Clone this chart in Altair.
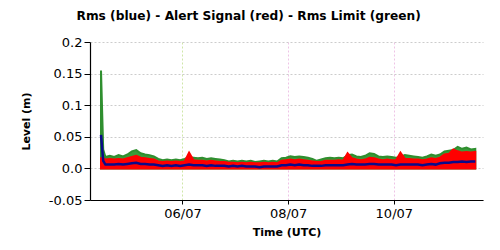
import altair as alt
import pandas as pd

# first two samples are hourly (start-up spike), then 2-hourly samples (UTC)
spike_times = ["2021-07-04T11:00:00Z", "2021-07-04T12:00:00Z"]
regular_start = "2021-07-04 13:00"
rms_limit = [0.155, 0.030, 0.018, 0.020, 0.018, 0.021, 0.019, 0.022, 0.027, 0.029,
             0.024, 0.022, 0.021, 0.019, 0.015, 0.013, 0.014, 0.013, 0.014, 0.013,
             0.015, 0.018, 0.017, 0.016, 0.017, 0.015, 0.016, 0.015, 0.014, 0.013,
             0.011, 0.012, 0.011, 0.012, 0.011, 0.012, 0.010, 0.011, 0.012, 0.011,
             0.012, 0.011, 0.016, 0.017, 0.019, 0.018, 0.019, 0.018, 0.017, 0.015,
             0.012, 0.014, 0.016, 0.017, 0.016, 0.017, 0.016, 0.021, 0.022, 0.019,
             0.018, 0.020, 0.024, 0.023, 0.019, 0.018, 0.019, 0.018, 0.017, 0.018,
             0.021, 0.020, 0.019, 0.018, 0.017, 0.019, 0.022, 0.020, 0.022, 0.027,
             0.028, 0.029, 0.034, 0.031, 0.033, 0.030, 0.031]
alert_signal = [0.016, 0.016, 0.014, 0.015, 0.014, 0.015, 0.014, 0.016, 0.018, 0.020,
                0.017, 0.016, 0.015, 0.014, 0.011, 0.010, 0.011, 0.010, 0.011, 0.010,
                0.011, 0.025, 0.013, 0.012, 0.012, 0.011, 0.012, 0.011, 0.010, 0.010,
                0.009, 0.009, 0.008, 0.009, 0.008, 0.009, 0.008, 0.008, 0.009, 0.008,
                0.009, 0.008, 0.012, 0.013, 0.014, 0.013, 0.014, 0.013, 0.012, 0.011,
                0.010, 0.010, 0.012, 0.012, 0.012, 0.013, 0.012, 0.024, 0.016, 0.014,
                0.013, 0.014, 0.017, 0.016, 0.014, 0.013, 0.014, 0.013, 0.013, 0.025,
                0.015, 0.015, 0.014, 0.014, 0.013, 0.014, 0.016, 0.015, 0.017, 0.022,
                0.023, 0.030, 0.027, 0.025, 0.026, 0.025, 0.026]
rms = [0.053, 0.012, 0.006, 0.006, 0.006, 0.007, 0.006, 0.007, 0.008, 0.009,
       0.007, 0.007, 0.006, 0.006, 0.005, 0.004, 0.005, 0.004, 0.005, 0.004,
       0.005, 0.006, 0.005, 0.005, 0.005, 0.004, 0.005, 0.004, 0.004, 0.004,
       0.003, 0.004, 0.003, 0.004, 0.003, 0.003, 0.003, 0.002, 0.003, 0.003,
       0.003, 0.003, 0.005, 0.005, 0.006, 0.005, 0.006, 0.005, 0.005, 0.004,
       0.004, 0.004, 0.005, 0.005, 0.005, 0.005, 0.005, 0.006, 0.007, 0.006,
       0.006, 0.006, 0.007, 0.007, 0.006, 0.006, 0.006, 0.006, 0.005, 0.006,
       0.006, 0.006, 0.006, 0.006, 0.005, 0.006, 0.007, 0.006, 0.008, 0.009,
       0.009, 0.010, 0.010, 0.011, 0.010, 0.011, 0.011]
y_ticks = [-0.05, 0.0, 0.05, 0.1, 0.15, 0.2]
x_ticks = ["2021-07-06", "2021-07-08", "2021-07-10"]

regular = pd.date_range(regular_start, periods=len(rms) - len(spike_times), freq="2h")
times = spike_times + list(regular.strftime("%Y-%m-%dT%H:%M:%SZ"))
df = pd.DataFrame({
    "time": times,
    "limit": rms_limit,
    "alert": alert_signal,
    "rms": rms,
})

font = "DejaVu Sans"
x_enc = alt.X(
    "time:T",
    scale=alt.Scale(type="utc",
                    domain=[alt.DateTime(year=2021, month=7, date=4, hours=6, utc=True),
                            alt.DateTime(year=2021, month=7, date=11, hours=16, minutes=30, utc=True)]),
    axis=alt.Axis(
        title="Time (UTC)",
        format="%d/%m",
        values=[alt.DateTime(year=int(s[:4]), month=int(s[5:7]), date=int(s[8:]), utc=True) for s in x_ticks],
        tickCount=10,
        grid=True,
        gridDash=[2, 2],
        gridColor={"condition": {"test": "utcdate(datum.value) == 6", "value": "#cfe6a8"}, "value": "#eec4e6"},
        tickSize=4,
        labelPadding=3,
        titlePadding=6,
    ),
)
y_scale = alt.Scale(domain=[-0.05, 0.2], nice=False, zero=False)
y_axis = alt.Axis(
    title="Level (m)",
    values=y_ticks,
    tickCount=10,
    labelExpr="datum.value == 0 ? '0.0' : (datum.value < 0 ? '-' + format(-datum.value, '.2~f') : format(datum.value, '.2~f'))",
    grid=True,
    gridDash=[2, 2],
    gridColor="#cccccc",
    tickSize=6,
    labelPadding=2,
    titlePadding=17,
    labelOverlap=False,
    labelBound=False,
    labelFlush=False,
)

base = alt.Chart(df)
green = base.mark_area(color="#3a9a3a", stroke="#2f8f2f", strokeWidth=2, opacity=1, clip=True).encode(
    x=x_enc, y=alt.Y("limit:Q", scale=y_scale, axis=y_axis), y2=alt.datum(0)
)
red = base.mark_area(color="#ff0000", stroke="#ff0000", strokeWidth=2, opacity=1).encode(
    x="time:T", y="alert:Q", y2=alt.datum(0)
)
blue = base.mark_line(color="#0a0a8a", strokeWidth=2.5).encode(
    x="time:T", y="rms:Q"
)

chart = alt.layer(green, red, blue).properties(
    width=393, height=158,
    background="white",
    autosize=alt.AutoSizeParams(type="none"),
    padding={"left": 90, "top": 42, "right": 17, "bottom": 50},
    title=alt.Title("Rms (blue) - Alert Signal (red) - Rms Limit (green)",
                    font=font, fontSize=12.2, fontWeight="bold", anchor="middle",
                    frame="bounds", offset=14, color="#000000", dx=-3),
).configure_view(stroke=None).configure_axis(
    labelFont=font, labelFontSize=13, labelColor="#000000",
    titleFont=font, titleFontSize=11, titleFontWeight="bold", titleColor="#000000",
    domainColor="#000000", tickColor="#000000", domainWidth=1.2,
)

chart.save("out.html", embed_options={"renderer": "svg", "actions": False})
